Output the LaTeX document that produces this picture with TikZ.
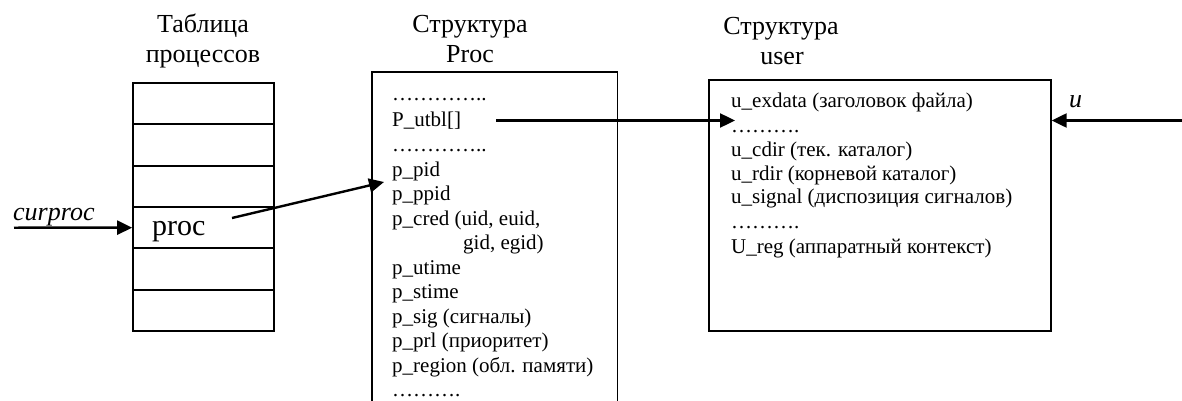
\documentclass[tikz,border=0pt]{standalone}
\usepackage{fontspec}
\setmainfont{Liberation Serif}
\usetikzlibrary{arrows.meta}

\tikzset{
  boxline/.style={line width=1.7pt},
  ptr/.style={line width=2.4pt, -{Triangle[length=15pt,width=14pt]}},
  row/.style={draw, boxline, minimum width=141pt, minimum height=41.33pt, inner sep=0pt},
  title/.style={font=\fontsize{26}{28}\selectfont, align=center, inner sep=0pt, anchor=base},
  field/.style={font=\fontsize{21}{24}\selectfont, anchor=base west, inner sep=0pt},
  label/.style={font=\fontsize{26}{28}\selectfont\itshape, anchor=base west, inner sep=0pt}
}

\begin{document}
\begin{tikzpicture}[x=1pt, y=-1pt]
\useasboundingbox (0,0) rectangle (1182,401);

% --- process table ---
\node[title] (tt1) at (203,33) {Таблица};
\node[title] (tt2) at (203,63) {процессов};
\foreach \i in {1,...,6}
  \node[row] (row\i) at (203.5,{83+41.33*(\i-0.5)}) {};
\node[font=\fontsize{30}{32}\selectfont, anchor=base west, inner sep=0pt] (proc) at (152,235) {proc};
\node[label] (curproc) at (13,220) {curproc};
\coordinate (cpin) at (14,227.7);

% --- proc structure (open at the bottom) ---
\node[title] (pt1) at (470,33) {Структура};
\node[title] (pt2) at (470,63) {Proc};
\node[minimum width=245pt, minimum height=340pt, inner sep=0pt, anchor=north west] (procbox) at (372,72) {};
\draw[boxline] (procbox.south west) |- (procbox.north east) -- (procbox.south east);

\node[field] (pd1) at (392,101) {…………..};
\node[field] (putbl) at (392,126.5) {P\_utbl[]};
\node[field] (pd2) at (392,151) {…………..};
\node[field] (ppid0) at (392,176) {p\_pid};
\node[field] (pppid) at (392,200.5) {p\_ppid};
\node[field] (pcred) at (392,225) {p\_cred (uid, euid,};
\node[field] (pcred2) at (463,249.5) {gid, egid)};
\node[field] (putime) at (392,274) {p\_utime};
\node[field] (pstime) at (392,298.5) {p\_stime};
\node[field] (psig) at (392,323) {p\_sig (сигналы)};
\node[field] (pprl) at (392,347.5) {p\_prl (приоритет)};
\node[field] (preg) at (392,372) {p\_region (обл. памяти)};
\node[field] (pd3) at (392,396.5) {……….};

% --- user structure ---
\node[title] (ut1) at (781,35) {Структура};
\node[title] (ut2) at (782,65) {user};
\node[draw, boxline, minimum width=342pt, minimum height=251pt, inner sep=0pt, anchor=north west] (userbox) at (708,79) {};

\node[field] (uexd) at (731,108) {u\_exdata (заголовок файла)};
\node[field] (ud1) at (731,132) {……….};
\node[field] (ucdir) at (731,156) {u\_cdir (тек. каталог)};
\node[field] (urdir) at (731,180) {u\_rdir (корневой каталог)};
\node[field] (usig) at (731,203.5) {u\_signal (диспозиция сигналов)};
\node[field] (ud2) at (731,228) {……….};
\node[field] (ureg) at (731,253) {U\_reg (аппаратный контекст)};
\node[label] (ulab) at (1069,107) {u};

% --- pointers ---
\coordinate (proctail) at (232,218);
\coordinate (pidin) at (384,182);
\coordinate (utbltail) at (496,120.5);
\coordinate (uexin) at (735,120.5);
\coordinate (uptr) at (1182,120.5);

\draw[ptr] (cpin) -- (row4.west);
\draw[ptr] (proctail) -- (pidin);
\draw[ptr] (utbltail) -- (uexin);
\draw[ptr] (uptr) -- (userbox.east |- uptr);
\end{tikzpicture}
\end{document}
